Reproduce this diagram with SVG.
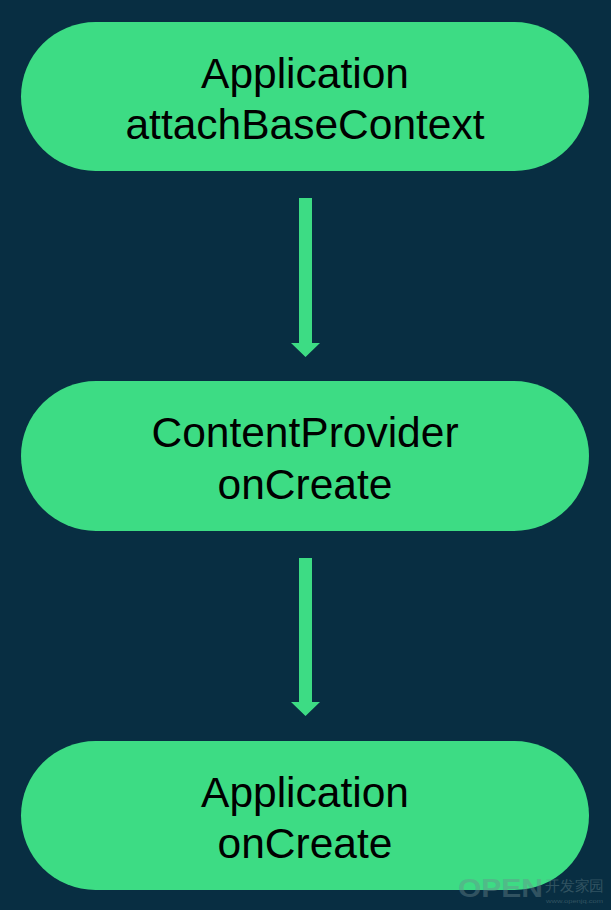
<svg xmlns="http://www.w3.org/2000/svg" width="611" height="910" viewBox="0 0 611 910">
<style>
.node{fill:#3DDC84}
.t{font-family:"Liberation Sans",Arial,sans-serif;font-size:42.5px;fill:#000;text-anchor:middle}
.edge{fill:#3DDC84}
.wm{font-family:"Liberation Sans",Arial,sans-serif;fill:#6E8A90;opacity:0.4}
</style>
<rect width="611" height="910" fill="#082E42"/>
<g id="n1"><rect class="node" x="21" y="22" width="568" height="149" rx="74.5"/>
<text class="t" x="305" y="87.5">Application</text><text class="t" x="305" y="139">attachBaseContext</text></g>
<g id="n2"><rect class="node" x="21" y="381" width="568" height="150" rx="75"/>
<text class="t" x="305" y="447">ContentProvider</text><text class="t" x="305" y="498.5">onCreate</text></g>
<g id="n3"><rect class="node" x="21" y="741" width="568" height="149" rx="74.5"/>
<text class="t" x="305" y="806.5">Application</text><text class="t" x="305" y="858">onCreate</text></g>
<g id="edges">
<path class="edge" d="M299 198H312V343H320L305.5 357L291 343H299Z"/>
<path class="edge" d="M299 558H312V702H320L305.5 716L291 702H299Z"/>
</g>
<g id="watermark">
<text class="wm" x="458" y="897" font-size="25" font-weight="bold" textLength="85" lengthAdjust="spacingAndGlyphs">OPEN</text>
<text class="wm" x="545" y="891" font-size="15" font-family="'Noto Sans CJK SC',sans-serif" textLength="59" lengthAdjust="spacingAndGlyphs">开发家园</text>
<text class="wm" x="546" y="903" font-size="6" textLength="57" lengthAdjust="spacingAndGlyphs">www.openjq.com</text>
</g>
</svg>
